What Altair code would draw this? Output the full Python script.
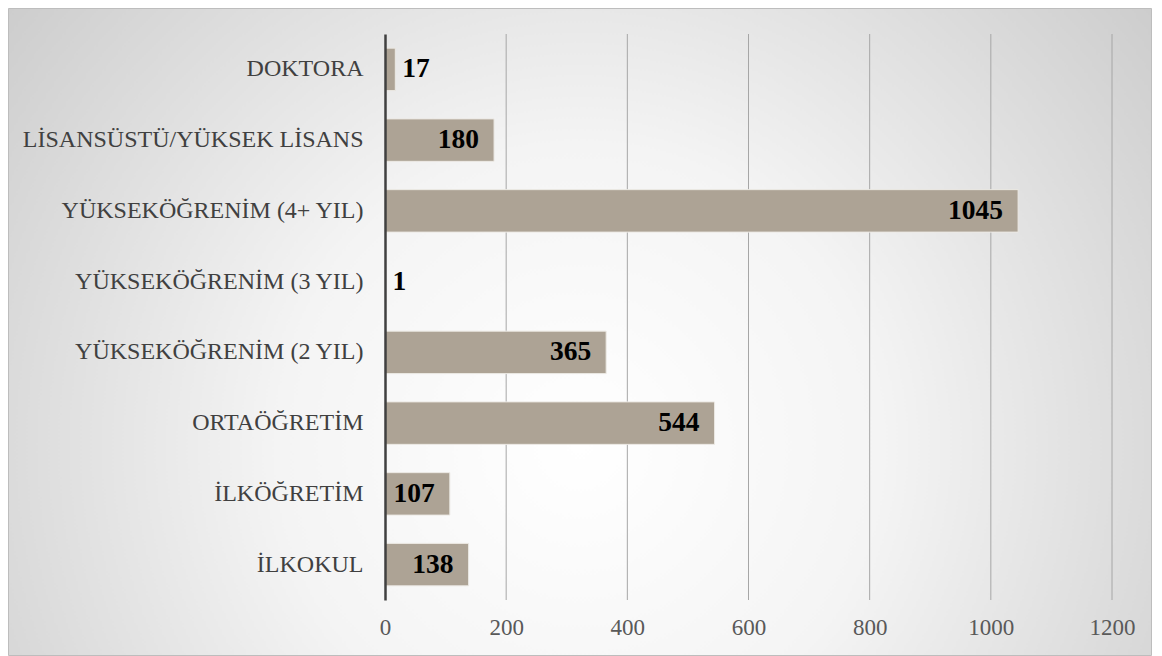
import altair as alt
import pandas as pd

categories = ["DOKTORA", "LİSANSÜSTÜ/YÜKSEK LİSANS", "YÜKSEKÖĞRENİM (4+ YIL)",
              "YÜKSEKÖĞRENİM (3 YIL)", "YÜKSEKÖĞRENİM (2 YIL)", "ORTAÖĞRETİM",
              "İLKÖĞRETİM", "İLKOKUL"]
values = [17, 180, 1045, 1, 365, 544, 107, 138]
tick_values = [0, 200, 400, 600, 800, 1000, 1200]
grid_values = [200, 400, 600, 800, 1000, 1200]

df = pd.DataFrame({"cat": categories, "val": values})
grid_df = pd.DataFrame({"g": grid_values})
bg_df = pd.DataFrame({"a": [0]})

W, H = 727, 566
PAD = {"left": 377, "top": 26, "right": 40, "bottom": 56}
FONT = "Liberation Serif"

xscale = alt.Scale(domain=[0, 1200], nice=False, zero=True)
yscale = alt.Scale(domain=categories, paddingInner=0.4, paddingOuter=0.2)

x_axis = alt.Axis(values=tick_values, format="d", grid=False, ticks=False, domain=False,
                  labelFont=FONT, labelFontSize=23, labelColor="#595959",
                  labelPadding=16, labelFlush=False, zindex=1)

bg = alt.Chart(bg_df).mark_rect(
    fill=alt.RadialGradient(
        gradient="radial",
        stops=[alt.GradientStop(offset=0, color="#ffffff"),
               alt.GradientStop(offset=0.35, color="#f4f4f4"),
               alt.GradientStop(offset=1, color="#c0c0c0")],
        x1=0.5, y1=0.6, x2=0.5, y2=0.6, r1=0, r2=0.75),
    stroke="#bdbdbd", strokeWidth=1,
).encode(
    x=alt.value(-PAD["left"] + 0.5), x2=alt.value(W + PAD["right"] - 0.5),
    y=alt.value(-PAD["top"] + 0.5), y2=alt.value(H + PAD["bottom"] - 0.5),
)

grid = alt.Chart(grid_df).mark_rule(color="#a6a6a6", strokeWidth=1).encode(
    x=alt.X("g:Q", scale=xscale, axis=x_axis, title=None)
)

base = alt.Chart(df).encode(
    y=alt.Y("cat:N", scale=yscale, sort=categories, title=None,
            axis=alt.Axis(ticks=False, domain=True, domainColor="#404040",
                          domainWidth=2.5, labelFont=FONT, labelFontSize=24,
                          labelColor="#404040", labelPadding=22, zindex=1,
                          labelLimit=400)),
)

bars = base.mark_bar(color="#ADA395", stroke="#ece9e4", strokeWidth=1).encode(
    x=alt.X("val:Q", scale=xscale, title=None, axis=x_axis),
)

inside = base.mark_text(align="right", baseline="middle", dx=-15, font=FONT,
                        fontSize=27.5, fontWeight="bold", color="#000000").encode(
    x=alt.X("val:Q", scale=xscale, axis=x_axis), text="val:Q"
).transform_filter(alt.datum.val >= 50)

outside = base.mark_text(align="left", baseline="middle", dx=7, font=FONT,
                         fontSize=27.5, fontWeight="bold", color="#000000").encode(
    x=alt.X("val:Q", scale=xscale, axis=x_axis), text="val:Q"
).transform_filter(alt.datum.val < 50)

chart = alt.layer(bg, grid, bars, inside, outside).properties(
    width=W, height=H,
    autosize=alt.AutoSizeParams(type="none"),
    padding=PAD,
).configure_view(stroke=None)

chart.save("out.html", embed_options={"renderer": "svg", "actions": False})
